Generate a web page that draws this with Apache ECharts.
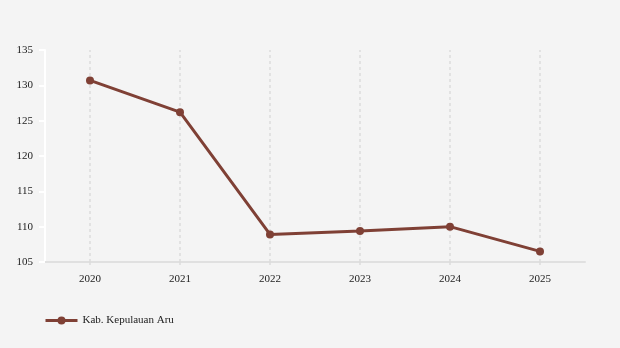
<!DOCTYPE html>
<html><head><meta charset="utf-8">
<script src="https://cdn.jsdelivr.net/npm/echarts@6/dist/echarts.min.js"></script>
<style>html,body{margin:0;padding:0;background:#f4f4f4}#c{width:620px;height:348px}</style>
</head><body><div id="c"></div>
<script>
const categories = ['2020','2021','2022','2023','2024','2025'];
const seriesName = 'Kab. Kepulauan Aru';
const values = [130.7, 126.2, 108.9, 109.4, 110.0, 106.5];
const yTicks = [105, 110, 115, 120, 125, 130, 135];

const chart = echarts.init(document.getElementById('c'));
const font = '"Liberation Serif", "Times New Roman", serif';
chart.setOption({
  backgroundColor: '#f4f4f4',
  animation: false,
  textStyle: {fontFamily: font},
  grid: {left: 45, right: 35, top: 50, bottom: 86},
  legend: {
    left: 39, top: 310, itemWidth: 32, itemHeight: 10, itemGap: 10,
    lineStyle: {width: 3},
    textStyle: {fontFamily: font, fontSize: 11, color: '#222'},
    data: [seriesName]
  },
  xAxis: {
    type: 'category', data: categories, boundaryGap: true,
    axisLine: {lineStyle: {color: '#e0e0e0', width: 2}},
    axisTick: {show: true, alignWithLabel: true, length: 5, lineStyle: {color: '#dcdcdc', type: [3, 3], width: 1.5}},
    axisLabel: {color: '#222', fontSize: 11, fontFamily: font, margin: 12},
    splitLine: {show: false}
  },
  yAxis: {
    type: 'value', min: yTicks[0], max: yTicks[yTicks.length-1], interval: 5,
    axisLine: {show: true, lineStyle: {color: '#ffffff', width: 2}},
    axisTick: {show: true, length: 6, lineStyle: {color: '#ffffff', width: 2}},
    axisLabel: {color: '#222', fontSize: 11, fontFamily: font, margin: 12},
    splitLine: {show: false}
  },
  series: [{
    name: seriesName, type: 'line', data: values, z: 3,
    symbol: 'circle', symbolSize: 8,
    lineStyle: {color: '#7f4035', width: 3},
    itemStyle: {color: '#7f4035'},
    markLine: {
      silent: true, symbol: 'none', label: {show: false}, z: 1,
      lineStyle: {color: '#dcdcdc', type: [3, 3], width: 1.5},
      data: categories.map(c => ({xAxis: c}))
    }
  }]
});
</script></body></html>
